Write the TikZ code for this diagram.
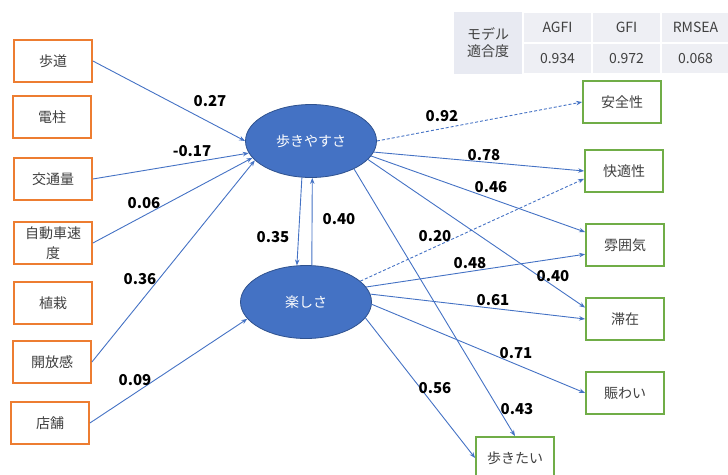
\documentclass[tikz,border=0pt]{standalone}
\usepackage{fontspec}
\setmainfont{Noto Sans CJK JP}
\usetikzlibrary{positioning, shapes.geometric, arrows.meta}
\definecolor{sembl}{HTML}{4472C4}
\definecolor{semdk}{HTML}{2F528F}
\definecolor{obsor}{HTML}{ED7D31}
\definecolor{obsgr}{HTML}{70AD47}
\definecolor{txtgy}{HTML}{404040}
\definecolor{tabhd}{HTML}{E8EAF2}
\definecolor{tabcl}{HTML}{EEEFF4}

\begin{document}
\begin{tikzpicture}[x=1pt, y=-1pt,
    obsin/.style={draw=obsor, line width=1.8pt, fill=white, minimum width=78pt,
                  minimum height=42pt, inner sep=1pt, align=center,
                  font=\fontsize{14}{20}\selectfont, text=txtgy},
    obsout/.style={obsin, draw=obsgr},
    latent/.style={ellipse, draw=semdk, line width=0.8pt, fill=sembl, text=white,
                   minimum width=131pt, minimum height=73pt, inner sep=0pt,
                   font=\fontsize{14}{16}\selectfont},
    edge/.style={-{Stealth[length=6pt, width=4.5pt]}, line width=0.9pt, color=sembl},
    dedge/.style={edge, dashed, dash pattern=on 3pt off 2pt},
    lab/.style={font=\fontsize{15}{16}\selectfont\bfseries, inner sep=0pt},
    cell/.style={draw=white, line width=1.5pt, fill=tabcl, inner sep=0pt,
                 font=\fontsize{14}{20}\selectfont, text=txtgy, align=center}
]
\useasboundingbox (0,0) rectangle (728,474);

% fit table
\node[cell, fill=tabhd, minimum width=69pt, minimum height=63pt] (tfit) at (488,43) {モデル\\[-3pt]適合度};
\node[cell, minimum width=69pt, minimum height=31pt] (tagfi) at (557.5,27.5) {AGFI};
\node[cell, minimum width=69pt, minimum height=31pt] (tgfi) at (626.5,27.5) {GFI};
\node[cell, minimum width=69pt, minimum height=31pt] (trmsea) at (695.5,27.5) {RMSEA};
\node[cell, minimum width=69pt, minimum height=31pt] (vagfi) at (557.5,58.5) {0.934};
\node[cell, minimum width=69pt, minimum height=31pt] (vgfi) at (626.5,58.5) {0.972};
\node[cell, minimum width=69pt, minimum height=31pt] (vrmsea) at (695.5,58.5) {0.068};

% observed causes
\node[obsin] (hodo) at (53,61) {歩道};
\node[obsin] (denchu) at (52,117) {電柱};
\node[obsin] (kotsu) at (53,179) {交通量};
\node[obsin] (sokudo) at (53,243) {自動車速\\度};
\node[obsin] (shokusai) at (53,303) {植栽};
\node[obsin] (kaiho) at (52,362) {開放感};
\node[obsin] (tenpo) at (50,423) {店舗};

% latent factors
\node[latent] (walk) at (311,141) {歩きやすさ};
\node[latent] (fun) at (306,302) {楽しさ};

% observed outcomes
\node[obsout] (anzen) at (622,102) {安全性};
\node[obsout] (kaiteki) at (624,171) {快適性};
\node[obsout] (atmos) at (625,245) {雰囲気};
\node[obsout] (taizai) at (625,319) {滞在};
\node[obsout] (nigiwai) at (625,393) {賑わい};
\node[obsout] (arukitai) at (515,458) {歩きたい};

% paths into the factors
\draw[edge] (hodo.east) -- (walk.west);
\draw[edge] (kotsu.east) -- (walk.191);
\draw[edge] (sokudo.east) -- (walk.196);
\draw[edge] (kaiho.east) -- (walk.199);
\draw[edge] (tenpo.east) -- (fun.196);
\draw[edge] (walk.256) -- (fun.104);
\draw[edge] (fun.81) -- (walk.272);

% paths out of the factors
\draw[dedge] (walk.east) -- (anzen.west);
\draw[edge] (walk.350) -- (kaiteki.west);
\draw[edge] (walk.346) -- (atmos.162);
\draw[edge] (walk.342) -- (taizai.164);
\draw[edge] (walk.327) -- (arukitai.north);
\draw[dedge] (fun.21) -- (kaiteki.191);
\draw[edge] (fun.14) -- (atmos.193);
\draw[edge] (fun.7) -- (taizai.west);
\draw[edge] (fun.358) -- (nigiwai.west);
\draw[edge] (fun.345) -- (arukitai.west);

% coefficients
\node[lab] (c27) at (210,101) {0.27};
\node[lab] (c17) at (192,151) {-0.17};
\node[lab] (c06) at (144,203) {0.06};
\node[lab] (c36) at (140,279) {0.36};
\node[lab] (c09) at (135,380) {0.09};
\node[lab] (c35) at (273,237) {0.35};
\node[lab] (c40a) at (339,219) {0.40};
\node[lab] (c92) at (442,116) {0.92};
\node[lab] (c78) at (484,155) {0.78};
\node[lab] (c46) at (491,187) {0.46};
\node[lab] (c20) at (435,236) {0.20};
\node[lab] (c48) at (470,263) {0.48};
\node[lab] (c40b) at (553,276) {0.40};
\node[lab] (c61) at (493,300) {0.61};
\node[lab] (c71) at (516,353) {0.71};
\node[lab] (c56) at (435,388) {0.56};
\node[lab] (c43) at (517,409) {0.43};
\end{tikzpicture}
\end{document}
